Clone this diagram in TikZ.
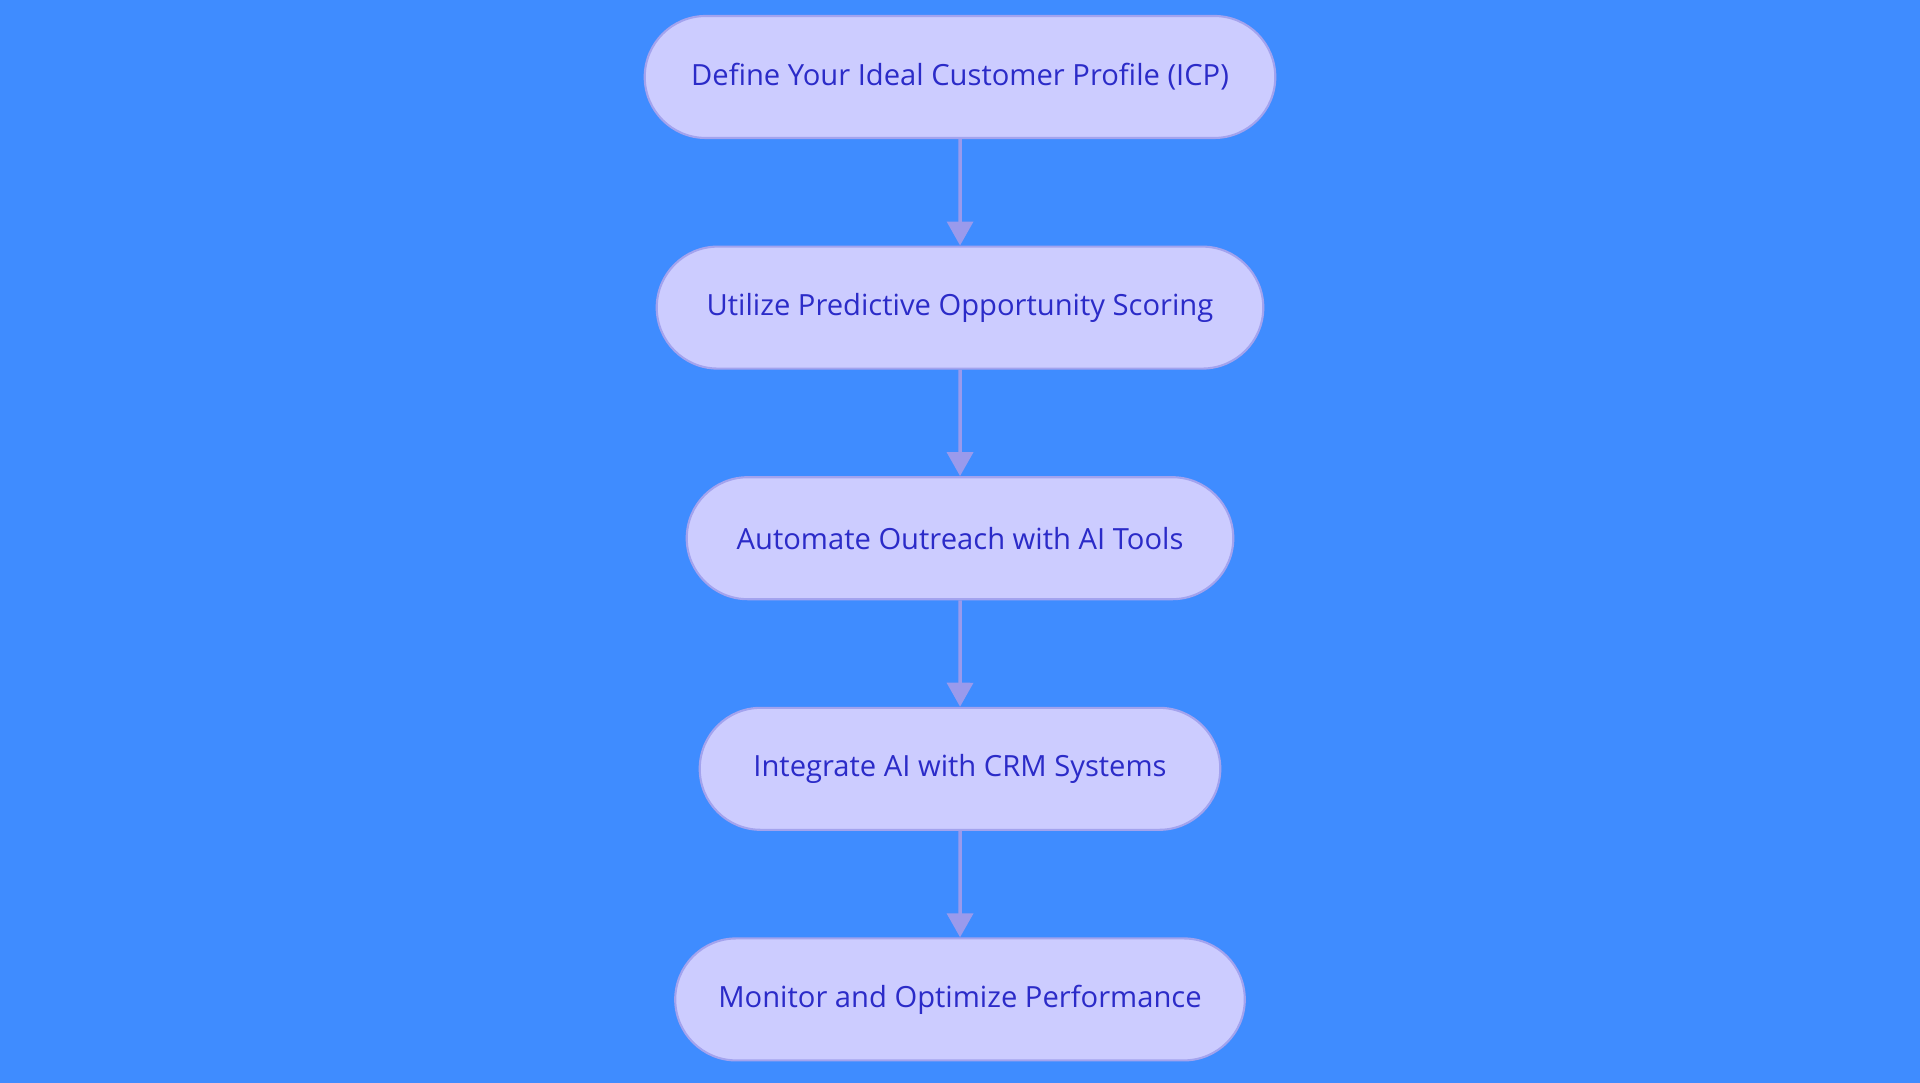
\documentclass[tikz,border=0pt]{standalone}
\usepackage{fontspec}
\setmainfont{Open Sans}
\usetikzlibrary{positioning,shapes.misc,arrows.meta}
\definecolor{bgblue}{HTML}{3F8CFF}
\definecolor{boxfill}{HTML}{CCCCFF}
\definecolor{boxline}{HTML}{A3A3EE}
\definecolor{boxtext}{HTML}{2B2BC8}
\definecolor{arrowcol}{HTML}{9A9AEC}
\begin{document}
\begin{tikzpicture}[node distance=1.065cm]
	\tikzstyle{stage}=[draw=boxline, fill=boxfill, rounded rectangle, minimum height=1.22cm, text=boxtext, font=\fontsize{8.3}{10}\selectfont, line width=0.6pt]
	\tikzstyle{flow}=[draw=arrowcol, line width=1pt, -{Triangle[length=0.24cm,width=0.26cm]}]
	
	\fill[bgblue] (0,0) rectangle (19.2,10.83);
	\useasboundingbox (0,0) rectangle (19.2,10.83);
	
	\node[stage, minimum width=6.54cm] (icp) at (9.6,10.06) {Define Your Ideal Customer Profile (ICP)};
	\node[stage, minimum width=6.30cm] (score) [below=of icp] {Utilize Predictive Opportunity Scoring};
	\node[stage, minimum width=5.70cm] (outreach) [below=of score] {Automate Outreach with AI Tools};
	\node[stage, minimum width=5.44cm] (crm) [below=of outreach] {Integrate AI with CRM Systems};
	\node[stage, minimum width=5.93cm] (monitor) [below=of crm] {Monitor and Optimize Performance};
	
	\draw[flow] (icp) -- (score);
	\draw[flow] (score) -- (outreach);
	\draw[flow] (outreach) -- (crm);
	\draw[flow] (crm) -- (monitor);
\end{tikzpicture}
\end{document}
